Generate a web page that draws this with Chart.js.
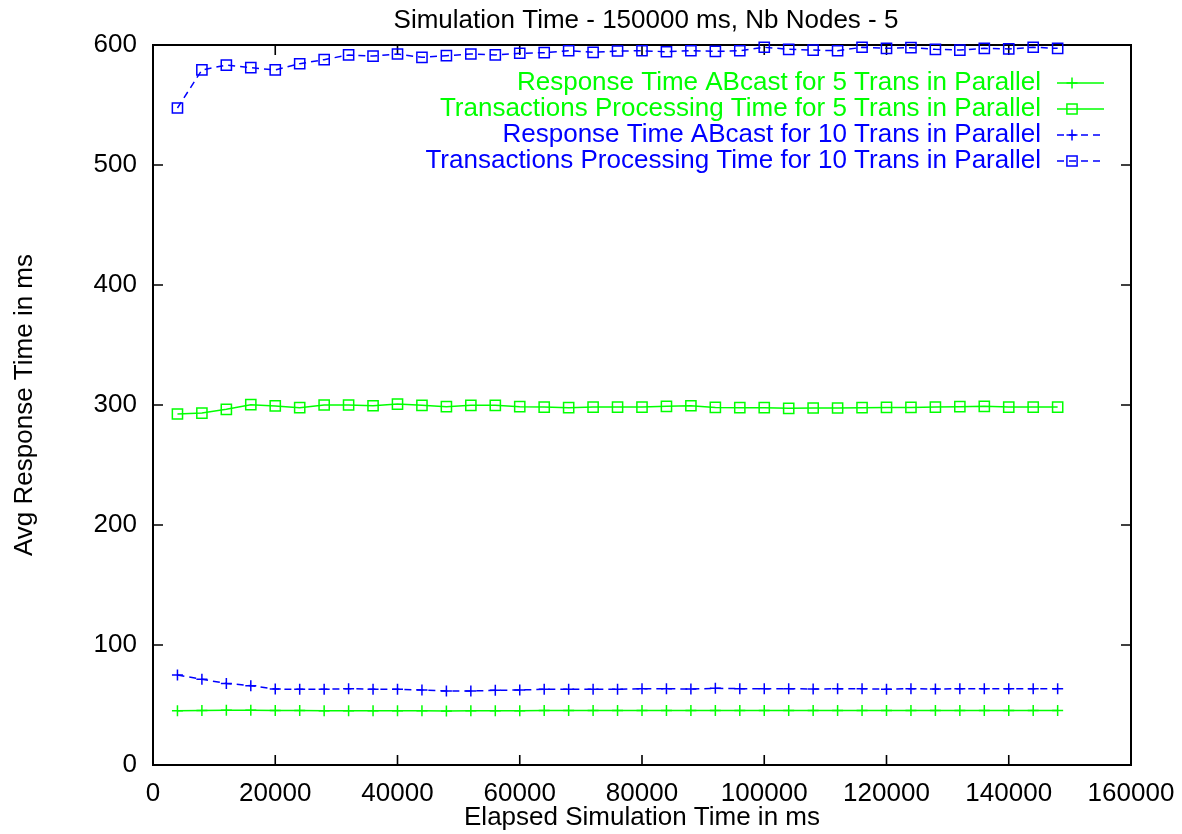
<!DOCTYPE html>
<html>
<head>
<meta charset="utf-8">
<script src="https://cdn.jsdelivr.net/npm/chart.js@4"></script>
<style>
  html, body { margin: 0; padding: 0; background: #fff; }
  canvas { display: block; }
</style>
</head>
<body>
<canvas id="c" width="1182" height="834"></canvas>
<script>
// ---- Data ----
const titleText = "Simulation Time - 150000 ms, Nb Nodes - 5";
const xTitle = "Elapsed Simulation Time in ms";
const yTitle = "Avg Response Time in ms";

const elapsed = [4000, 8000, 12000, 16000, 20000, 24000, 28000, 32000, 36000, 40000,
  44000, 48000, 52000, 56000, 60000, 64000, 68000, 72000, 76000, 80000,
  84000, 88000, 92000, 96000, 100000, 104000, 108000, 112000, 116000, 120000,
  124000, 128000, 132000, 136000, 140000, 144000, 148000];

const resp5 = [45.2, 45.4, 45.6, 45.6, 45.5, 45.4, 45.3, 45.2, 45.2, 45.3,
  45.2, 45.1, 45.2, 45.3, 45.3, 45.4, 45.4, 45.4, 45.4, 45.4,
  45.4, 45.4, 45.4, 45.4, 45.4, 45.4, 45.4, 45.4, 45.4, 45.4,
  45.4, 45.4, 45.4, 45.4, 45.4, 45.4, 45.4];

const proc5 = [292.5, 293.3, 296.4, 300.3, 299.2, 297.8, 300.0, 300.0, 299.4, 300.8,
  299.7, 298.6, 299.7, 299.7, 298.6, 298.3, 297.8, 298.3, 298.3, 298.3,
  298.9, 299.4, 298.0, 297.8, 297.8, 297.2, 297.5, 297.5, 297.8, 298.0,
  298.0, 298.3, 298.6, 298.9, 298.3, 298.3, 298.3];

const resp10 = [75.0, 71.4, 68.0, 66.1, 63.3, 63.1, 63.1, 63.6, 63.1, 63.1,
  62.5, 61.7, 61.7, 62.2, 62.5, 63.1, 63.1, 63.1, 63.1, 63.6,
  63.6, 63.3, 63.9, 63.6, 63.6, 63.6, 63.3, 63.6, 63.6, 63.1,
  63.6, 63.3, 63.6, 63.6, 63.6, 63.6, 63.6];

const proc10 = [547.5, 579.2, 583.3, 581.1, 579.2, 584.4, 587.8, 591.7, 590.8, 592.5,
  589.7, 591.1, 592.5, 591.7, 593.1, 593.6, 595.2, 593.9, 595.0, 595.2,
  594.4, 595.2, 594.7, 595.2, 598.1, 596.4, 595.8, 595.2, 598.1, 597.2,
  597.8, 596.4, 595.8, 597.2, 596.7, 598.1, 597.2];

const seriesNames = [
  "Response Time ABcast for 5 Trans in Parallel",
  "Transactions Processing Time for 5 Trans in Parallel",
  "Response Time ABcast for 10 Trans in Parallel",
  "Transactions Processing Time for 10 Trans in Parallel"
];

const xMin = 0, xMax = 160000, xStep = 20000;
const yMin = 0, yMax = 600, yStep = 100;

// ---- Styles ----
const GREEN = '#00ff00';
const BLUE = '#0000ff';
const FONT = "'Liberation Sans', Arial, Helvetica, sans-serif";
const FS = 26;
Chart.defaults.font.family = FONT;
Chart.defaults.font.size = FS;
Chart.defaults.color = '#000';

const pts = arr => arr.map((v, i) => ({ x: elapsed[i], y: v }));

function ds(label, values, color, style, dashed) {
  return {
    label: label,
    data: pts(values),
    borderColor: color,
    backgroundColor: 'rgba(0,0,0,0)',
    borderWidth: 1.5,
    borderDash: dashed ? [7, 5] : [],
    pointStyle: style,
    pointRadius: style === 'rect' ? 7.2 : 5.5,
    pointBorderWidth: 1.5,
    pointBorderColor: color,
    pointBackgroundColor: 'rgba(0,0,0,0)',
    tension: 0,
    clip: false
  };
}

const framePlugin = {
  id: 'frame',
  beforeDatasetsDraw(chart) {
    const { ctx, chartArea: a, scales: { x, y } } = chart;
    ctx.save();
    ctx.strokeStyle = '#000';
    ctx.lineWidth = 1.6;
    ctx.beginPath();
    x.ticks.forEach(t => {
      const p = x.getPixelForValue(t.value);
      ctx.moveTo(p, a.bottom); ctx.lineTo(p, a.bottom - 10);
      ctx.moveTo(p, a.top); ctx.lineTo(p, a.top + 10);
    });
    y.ticks.forEach(t => {
      const p = y.getPixelForValue(t.value);
      ctx.moveTo(a.left, p); ctx.lineTo(a.left + 10, p);
      ctx.moveTo(a.right, p); ctx.lineTo(a.right - 10, p);
    });
    ctx.stroke();
    ctx.lineWidth = 2;
    ctx.strokeRect(a.left, a.top, a.right - a.left, a.bottom - a.top);
    ctx.restore();
  },
  afterDraw(chart) {
    const { ctx, chartArea: a } = chart;
    ctx.save();
    ctx.font = FS + 'px ' + FONT;
    ctx.fillStyle = '#000';
    // main title
    ctx.textAlign = 'center';
    ctx.textBaseline = 'alphabetic';
    ctx.fillText(titleText, (a.left + a.right) / 2 + 4, 28);
    // x title
    ctx.fillText(xTitle, (a.left + a.right) / 2, 825);
    // y title
    ctx.save();
    ctx.translate(32, (a.top + a.bottom) / 2);
    ctx.rotate(-Math.PI / 2);
    ctx.fillText(yTitle, 0, 0);
    ctx.restore();
    // legend
    const textRight = 1041, lx0 = 1057, lx1 = 1104, mx = 1072;
    chart.data.datasets.forEach((d, i) => {
      const yy = 83 + i * 26;
      ctx.fillStyle = d.borderColor;
      ctx.textAlign = 'right';
      ctx.textBaseline = 'middle';
      ctx.fillText(d.label, textRight, yy);
      ctx.strokeStyle = d.borderColor;
      ctx.lineWidth = d.borderWidth;
      ctx.setLineDash(d.borderDash);
      ctx.beginPath();
      ctx.moveTo(lx0, yy); ctx.lineTo(lx1, yy);
      ctx.stroke();
      ctx.setLineDash([]);
      ctx.lineWidth = d.pointBorderWidth;
      ctx.fillStyle = 'rgba(0,0,0,0)';
      Chart.helpers.drawPoint(ctx, { pointStyle: d.pointStyle, radius: d.pointRadius, borderWidth: d.pointBorderWidth, rotation: 0 }, mx, yy);
    });
    ctx.restore();
  }
};

new Chart(document.getElementById('c'), {
  type: 'line',
  data: {
    datasets: [
      ds(seriesNames[0], resp5, GREEN, 'cross', false),
      ds(seriesNames[1], proc5, GREEN, 'rect', false),
      ds(seriesNames[2], resp10, BLUE, 'cross', true),
      ds(seriesNames[3], proc10, BLUE, 'rect', true)
    ]
  },
  options: {
    responsive: false,
    animation: false,
    layout: { padding: { left: 0, top: 45, right: 51, bottom: 0 } },
    plugins: {
      legend: { display: false },
      title: { display: false },
      tooltip: { enabled: false }
    },
    scales: {
      x: {
        type: 'linear',
        min: xMin, max: xMax,
        grid: { display: false, drawTicks: false },
        border: { display: false },
        ticks: { stepSize: xStep, padding: 13, maxRotation: 0, color: '#000', font: { size: FS },
                 callback: v => String(v) },
        afterFit: s => { s.height = 69; s.paddingLeft = 0; s.paddingRight = 0; }
      },
      y: {
        type: 'linear',
        min: yMin, max: yMax,
        grid: { display: false, drawTicks: false },
        border: { display: false },
        ticks: { stepSize: yStep, padding: 16, color: '#000', font: { size: FS },
                 callback: v => String(v) },
        afterFit: s => { s.width = 153; s.paddingTop = 0; s.paddingBottom = 0; }
      }
    }
  },
  plugins: [framePlugin]
});
</script>
</body>
</html>
